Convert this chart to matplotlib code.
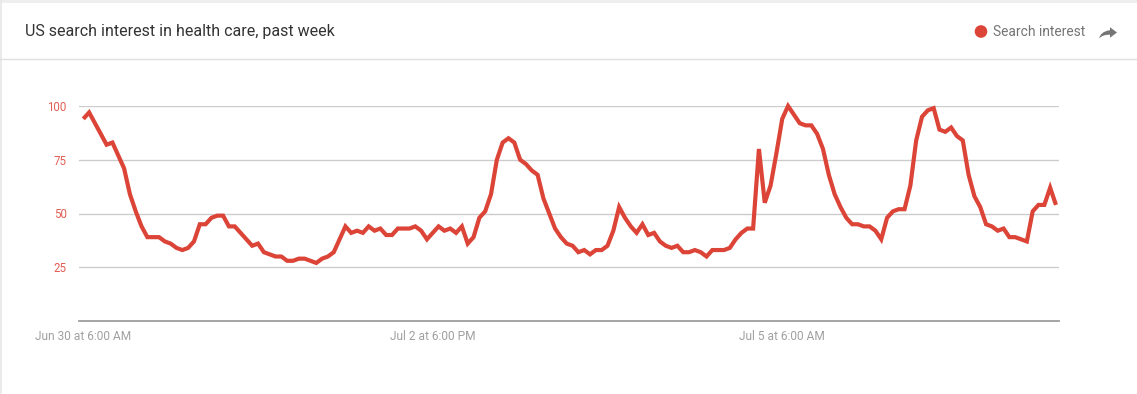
import matplotlib
matplotlib.use("Agg")
import matplotlib.pyplot as plt
from matplotlib.path import Path
from matplotlib.patches import PathPatch, Circle, Rectangle
import matplotlib.transforms as mtransforms

plt.rcParams['font.family'] = ['Roboto', 'DejaVu Sans']

# ---------------- data ----------------
title = "US search interest in health care, past week"
series_name = "Search interest"
values = [
    94, 97, 92, 87, 82, 83, 77, 71, 59, 51,
    44, 39, 39, 39, 37, 36, 34, 33, 34, 37,
    45, 45, 48, 49, 49, 44, 44, 41, 38, 35,
    36, 32, 31, 30, 30, 28, 28, 29, 29, 28,
    27, 29, 30, 32, 38, 44, 41, 42, 41, 44,
    42, 43, 40, 40, 43, 43, 43, 44, 42, 38,
    41, 44, 42, 43, 41, 44, 36, 39, 48, 51,
    59, 75, 83, 85, 83, 75, 73, 70, 68, 57,
    50, 43, 39, 36, 35, 32, 33, 31, 33, 33,
    35, 42, 53, 48, 44, 41, 45, 40, 41, 37,
    35, 34, 35, 32, 32, 33, 32, 30, 33, 33,
    33, 34, 38, 41, 43, 43, 80, 55, 63, 78,
    94, 100, 96, 92, 91, 91, 87, 80, 68, 59,
    53, 48, 45, 45, 44, 44, 42, 38, 48, 51,
    52, 52, 63, 84, 95, 98, 99, 89, 88, 90,
    86, 84, 68, 58, 53, 45, 44, 42, 43, 39,
    39, 38, 37, 51, 54, 54, 62, 54,
]
y_ticks = [25, 50, 75, 100]
x_tick_labels = ["Jun 30 at 6:00 AM", "Jul 2 at 6:00 PM", "Jul 5 at 6:00 AM"]
x_tick_hours = [0, 60, 120]

RED = '#db4437'

W, H = 1137, 394
fig = plt.figure(figsize=(W / 100, H / 100), dpi=100)
fig.patch.set_facecolor('white')

# ---------------- background / card decorations (pixel coords) ----------------
bg = fig.add_axes([0, 0, 1, 1], zorder=-1)
bg.set_xlim(0, W)
bg.set_ylim(H, 0)
bg.axis('off')
bg.add_patch(Rectangle((0, 0), W, 3, color='#eeeeee', lw=0))
bg.plot([0.5, 0.5], [0, H], color='#e6e6e6', lw=1.2)
bg.plot([0, W], [58.5, 58.5], color='#e0e0e0', lw=1)
bg.text(25, 31, title, ha='left', va='center', fontsize=11.5, color='#333333')

bg.add_patch(Circle((981, 31.5), 6.3, color=RED, lw=0))
bg.text(993, 31.5, series_name, ha='left', va='center', fontsize=9.9, color='#757575')

# share (forward) icon
verts = [(14, 9), (14, 5), (21, 12), (14, 19), (14, 14.9),
         (9, 14.9), (5.5, 16.5), (3, 20),
         (4, 15), (7, 10), (14, 9), (14, 9)]
codes = [Path.MOVETO, Path.LINETO, Path.LINETO, Path.LINETO, Path.LINETO,
         Path.CURVE4, Path.CURVE4, Path.CURVE4,
         Path.CURVE4, Path.CURVE4, Path.CURVE4, Path.CLOSEPOLY]
verts = [(1096 + x, 23.5 + y * 0.75) for x, y in verts]
bg.add_patch(PathPatch(Path(verts, codes), facecolor='#757575', lw=0))

# ---------------- main plot ----------------
left, right, top, bottom = 79, 1059, 106, 321
ax = fig.add_axes([left / W, 1 - bottom / H, (right - left) / W, (bottom - top) / H])
ax.set_facecolor('none')
n = len(values)
ax.set_xlim(-0.74, n - 1 + 0.52)
ax.set_ylim(0, 100)

ax.plot(range(n), values, color=RED, lw=3.0, clip_on=False, zorder=3,
        solid_joinstyle='miter', solid_capstyle='butt')

ax.set_yticks(y_ticks)
ax.set_yticklabels([str(v) for v in y_ticks])
ax.tick_params(axis='y', length=0, pad=8.8, labelsize=8.3, labelcolor='#e35d52')
ax.yaxis.grid(True, color='#cccccc', lw=1)
ax.set_axisbelow(True)
ax.set_xticks([])
for s in ['top', 'right', 'left']:
    ax.spines[s].set_visible(False)
ax.spines['bottom'].set_color('#9e9e9e')
ax.spines['bottom'].set_linewidth(1.3)

trans = mtransforms.blended_transform_factory(ax.transData, ax.transAxes)
for pos, lab in zip(x_tick_hours, x_tick_labels):
    ax.text(pos, -15 / (bottom - top), lab, transform=trans, ha='center', va='center',
            fontsize=8.6, color='#a0a0a0', clip_on=False)

fig.savefig('out.png', dpi=100, facecolor='white')
